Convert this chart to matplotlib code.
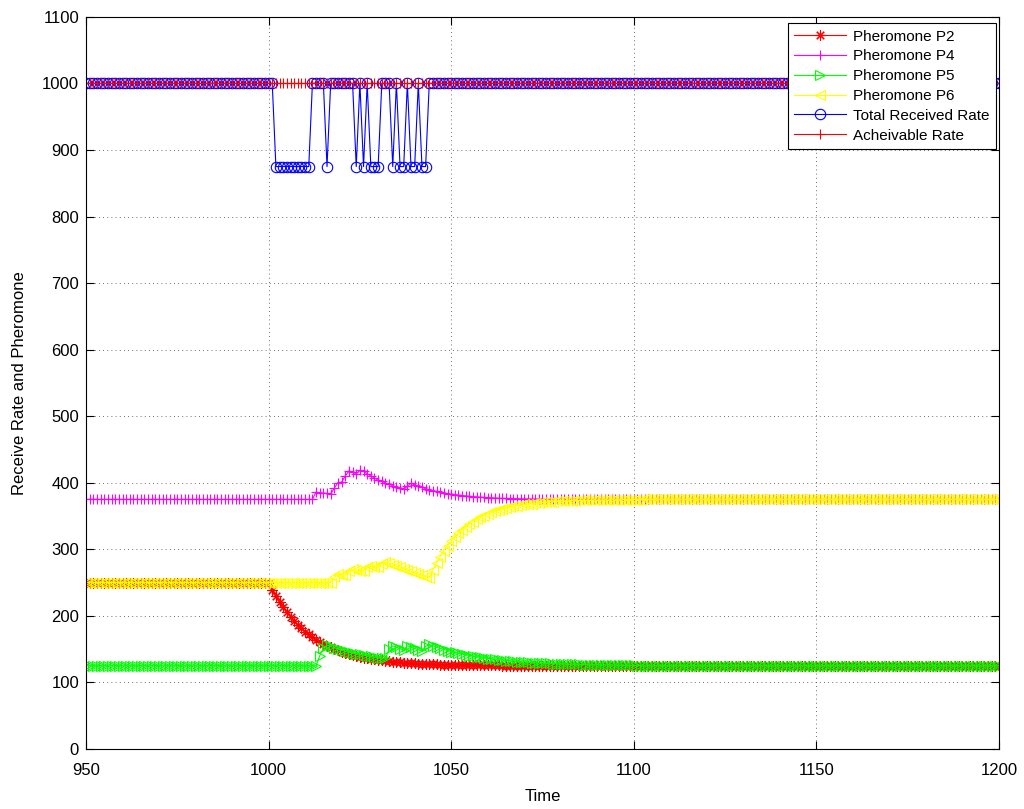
import numpy as np
import matplotlib
matplotlib.use('Agg')
import matplotlib.pyplot as plt

plt.rcParams['font.family'] = ['Liberation Sans', 'DejaVu Sans']

# Time steps
t = np.arange(950, 1201)

# Pheromone P2: drops away from 250 after t = 1000
p2_decay = [239.4, 229.6, 220.8, 212.6, 205.1, 198.4, 192.1, 186.4, 181.3, 176.4,
            172.0, 168.0, 164.4, 161.0, 158.0, 155.1, 152.6, 150.3, 148.1, 146.1,
            144.4, 142.8, 141.3, 139.9, 138.5, 137.4, 136.4, 135.4, 134.5, 133.8,
            133.0, 132.3, 131.6, 131.1, 130.6, 130.1, 129.6, 129.3, 128.9, 128.6,
            128.3, 128.0, 127.8, 127.5, 127.3, 127.1, 126.9, 126.8, 126.6, 126.5,
            126.4, 126.3, 126.2, 126.1, 126.0, 125.9, 125.8, 125.7, 125.7, 125.6,
            125.6, 125.5, 125.5, 125.4, 125.4]
p2 = [250.0] * 51 + p2_decay + [125.0] * 135

# Pheromone P4
p4_change = [386.0, 385.0, 384.5, 384.0, 383.0, 392.0, 400.0, 401.0, 410.0, 418.0,
             416.0, 413.0, 419.0, 417.0, 413.5, 410.0, 407.0, 404.0, 402.0, 399.5,
             397.5, 395.5, 393.5, 392.0, 390.0, 395.0, 399.0, 397.0, 395.0, 393.0,
             391.0, 389.5, 388.2, 387.0, 385.8, 384.8, 383.8, 383.0, 382.2, 381.5,
             380.8, 380.2, 379.7, 379.2, 378.8, 378.4, 378.0, 377.7, 377.4, 377.1,
             376.9, 376.7, 376.5, 376.3, 376.2, 376.0, 375.9, 375.8, 375.7, 375.6,
             375.5, 375.4, 375.3, 375.3, 375.2, 375.2, 375.1]
p4 = [375.0] * 63 + p4_change + [375.0] * 121

# Pheromone P5
p5_steps = [140.0, 152.0, 156.0, 154.0, 152.0, 150.0, 148.5, 147.0, 145.5, 144.0,
            143.0, 142.0, 141.0, 140.0, 139.0, 138.0, 137.0, 136.5, 136.0, 150.0,
            155.0, 152.5, 150.5, 148.5, 155.0, 153.0, 151.0, 149.0, 147.5, 154.0,
            157.0]
p5_decay = [154.9, 153.0, 151.1, 149.4, 147.9, 146.4, 145.0, 143.7, 142.5, 141.4,
            140.3, 139.3, 138.4, 137.5, 136.7, 135.9, 135.2, 134.5, 133.9, 133.4,
            132.8, 132.3, 131.8, 131.4, 131.0, 130.6, 130.2, 129.9, 129.6, 129.3,
            129.0, 128.7, 128.5, 128.3, 128.0, 127.8, 127.7, 127.5, 127.3, 127.2,
            127.0, 126.9, 126.8, 126.7, 126.6, 126.5, 126.4, 126.3, 126.2, 126.1,
            126.0, 125.9, 125.8, 125.7, 125.6, 125.5]
p5 = [125.0] * 64 + p5_steps + p5_decay + [125.0] * 100

# Pheromone P6
p6_steps = [258.0, 263.0, 262.0, 261.0, 268.0, 270.0, 269.0, 268.0, 267.0, 273.0,
            275.0, 274.0, 273.0, 278.0, 280.5, 279.0, 277.0, 275.0, 273.0, 271.0,
            269.0, 267.0, 265.0, 263.0, 261.0, 259.0, 257.0]
p6_rise = [268.8, 279.4, 289.0, 297.6, 305.3, 312.3, 318.6, 324.2, 329.3, 333.9,
           338.0, 341.7, 345.0, 348.0, 350.7, 353.1, 355.3, 357.3, 359.1, 360.7,
           362.1, 363.4, 364.5, 365.6, 366.5, 367.4, 368.1, 368.8, 369.4, 370.0,
           370.5, 370.9, 371.3, 371.7, 372.0, 372.3, 372.6, 372.8, 373.1, 373.3,
           373.4, 373.6, 373.7, 373.9, 374.0, 374.1, 374.2, 374.3, 374.4, 374.5,
           374.5, 374.6, 374.6, 374.7, 374.7, 374.8, 374.8, 374.8, 374.9, 374.9]
p6 = [250.0] * 68 + p6_steps + p6_rise + [375.0] * 96

# Total received rate falls to 875 at these steps, otherwise 1000
low_times = [1002, 1003, 1004, 1005, 1006, 1007, 1008, 1009, 1010, 1011,
             1016, 1024, 1026, 1028, 1029, 1030, 1034, 1036, 1037, 1039,
             1040, 1042, 1043]
total = np.where(np.isin(t, low_times), 875.0, 1000.0)
achievable = np.full(len(t), 1000.0)

fig = plt.figure(figsize=(10.24, 8.09), dpi=100)
ax = fig.add_axes([0.084, 0.0742, 0.8915, 0.905])

kw = dict(linewidth=0.8, markersize=7.5, markeredgewidth=0.8, markerfacecolor='none')
asterisk = (8, 2, 0)
ax.plot(t, p2, color='red', marker=asterisk, label='Pheromone P2', **kw)
ax.plot(t, p4, color='magenta', marker='+', label='Pheromone P4', **kw)
ax.plot(t, p5, color='lime', marker='>', label='Pheromone P5', **kw)
ax.plot(t, p6, color='yellow', marker='<', label='Pheromone P6', **kw)
ax.plot(t, total, color='blue', marker='o', label='Total Received Rate', **kw)
ax.plot(t, achievable, color='red', marker='+', label='Acheivable Rate', **kw)

ax.set_xlim(950, 1200)
ax.set_ylim(0, 1100)
ax.set_xticks(np.arange(950, 1201, 50))
ax.set_yticks(np.arange(0, 1101, 100))
ax.tick_params(direction='in', length=6, width=0.8, top=True, right=True,
               labelsize=12)
ax.tick_params(axis='x', pad=10)
ax.tick_params(axis='y', pad=5)
ax.grid(True, color='0.25', linestyle=(0, (1, 4)), linewidth=0.6)
for s in ax.spines.values():
    s.set_linewidth(0.8)

ax.set_xlabel('Time', fontsize=12, labelpad=8)
ax.set_ylabel('Receive Rate and Pheromone', fontsize=12, labelpad=11)

leg = ax.legend(loc='upper right', bbox_to_anchor=(0.9965, 0.991), fontsize=11,
                fancybox=False, framealpha=1, edgecolor='black',
                handlelength=3.4, labelspacing=0.38, borderpad=0.4,
                handletextpad=0.45, borderaxespad=0.0)
leg.get_frame().set_linewidth(0.8)

fig.savefig('out.png', dpi=100)
